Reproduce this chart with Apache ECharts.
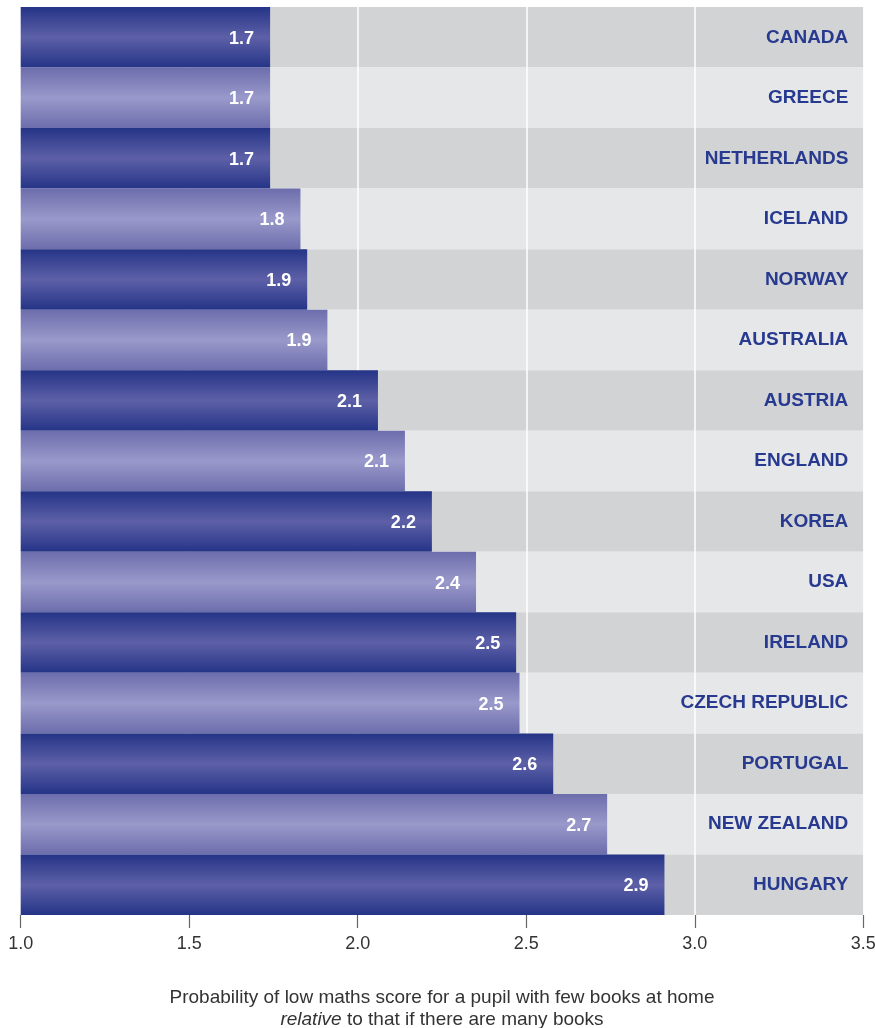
<!DOCTYPE html>
<html>
<head>
<meta charset="utf-8">
<script src="https://cdn.jsdelivr.net/npm/echarts@6/dist/echarts.min.js"></script>
<style>html,body{margin:0;padding:0;background:#fff;overflow:hidden;}#c{width:875px;height:1028px;}</style>
</head>
<body>
<div id="c"></div>
<script>
const countries = ['CANADA','GREECE','NETHERLANDS','ICELAND','NORWAY','AUSTRALIA','AUSTRIA','ENGLAND','KOREA','USA','IRELAND','CZECH REPUBLIC','PORTUGAL','NEW ZEALAND','HUNGARY'];
const values = [1.74,1.74,1.74,1.83,1.85,1.91,2.06,2.14,2.22,2.351,2.47,2.48,2.58,2.74,2.91];
const tickValues = [1.0,1.5,2.0,2.5,3.0,3.5];
const axisTitleLine1 = 'Probability of low maths score for a pupil with few books at home';
const axisTitleItalic = 'relative';
const axisTitleLine2 = ' to that if there are many books';

const FONT = "'Liberation Sans', Arial, Helvetica, sans-serif";
function grad(edge, mid){
  return new echarts.graphic.LinearGradient(0,0,0,1,[
    {offset:0,color:edge},{offset:0.5,color:mid},{offset:1,color:edge}
  ]);
}
const darkG = () => grad('#253487','#5d60a7');
const lightG = () => grad('#6c6dac','#9a99cb');

const chart = echarts.init(document.getElementById('c'), null, {width:875, height:1028});
chart.setOption({
  animation:false,
  backgroundColor:'#ffffff',
  grid:{left:20.7,top:7,width:842.6,height:908,containLabel:false,outerBoundsMode:'none'},
  xAxis:{
    type:'value', min:tickValues[0], max:tickValues[tickValues.length-1], interval:0.5, z:1,
    axisLine:{show:false},
    axisTick:{show:true,length:13,lineStyle:{color:'#666',width:1.2}},
    axisLabel:{fontFamily:FONT,fontSize:18,color:'#333',margin:20,formatter:v=>v.toFixed(1)},
    splitLine:{show:true,lineStyle:{color:'#ffffff',width:1.5}},
    name:'{a|'+axisTitleLine1+'}\n{i|'+axisTitleItalic+'}{a|'+axisTitleLine2+'}',
    nameLocation:'middle', nameGap:72,
    nameTextStyle:{fontFamily:FONT,fontSize:19,color:'#333',lineHeight:22,
      rich:{a:{fontFamily:FONT,fontSize:19,color:'#333',lineHeight:22},
            i:{fontFamily:FONT,fontSize:19,color:'#333',fontStyle:'italic',lineHeight:22}}}
  },
  yAxis:[{
    type:'category', inverse:true, data:countries, z:0,
    axisLine:{show:false}, axisTick:{show:false}, axisLabel:{show:false},
    splitArea:{show:true,areaStyle:{color:['#d2d3d5','#e6e7e9']}}
  },{
    type:'category', inverse:true, data:countries, position:'right', z:5,
    axisLine:{show:false}, axisTick:{show:false},
    axisLabel:{inside:true,margin:15,fontFamily:FONT,fontSize:19,fontWeight:'bold',color:'#283a8f',padding:[3,0,0,0]},
    splitArea:{show:false}, splitLine:{show:false}
  }],
  series:[{
    type:'bar', yAxisIndex:0, barWidth:'100%', z:2,
    data:values.map((v,i)=>({value:v,itemStyle:{color:i%2===0?darkG():lightG()}})),
    label:{show:true,position:'insideRight',distance:16,offset:[0,1.5],fontFamily:FONT,fontSize:18,fontWeight:'bold',color:'#ffffff',
      formatter:p=>p.value.toFixed(1)}
  }]
});
</script>
</body>
</html>
